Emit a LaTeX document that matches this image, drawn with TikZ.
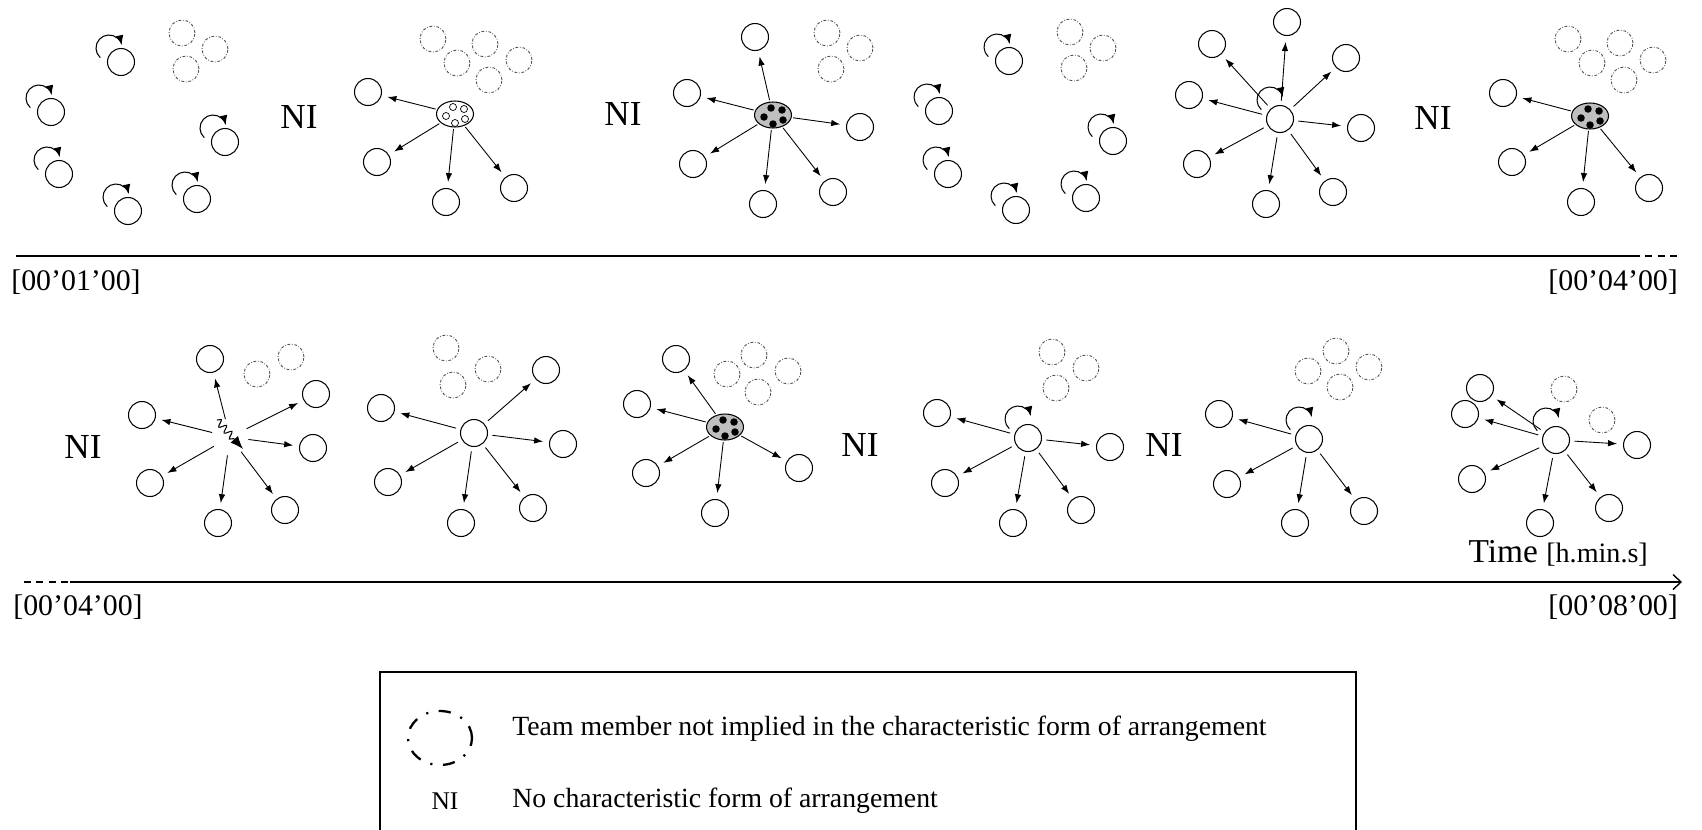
\documentclass[tikz,border=0pt]{standalone}
\usepackage{fontspec}
\setmainfont{Liberation Serif}
\usetikzlibrary{arrows.meta,shapes.geometric,decorations.pathmorphing}

\tikzset{
  member/.style={circle,draw,line width=0.6pt,minimum size=0.54cm,inner sep=0pt},
  absent/.style={circle,draw=black!70,line width=0.5pt,dash pattern=on 1.6pt off 1pt on 0.4pt off 1pt,minimum size=0.52cm,inner sep=0pt},
  clan/.style={ellipse,draw,line width=0.6pt,minimum width=0.74cm,minimum height=0.52cm,inner sep=0pt},
  core/.style={circle,fill=black,minimum size=0.15cm,inner sep=0pt},
  hollow/.style={circle,draw,fill=white,line width=0.4pt,minimum size=0.14cm,inner sep=0pt},
  spoke/.style={-{Latex[length=1.8mm,width=1.3mm]},line width=0.5pt,shorten <=0.03cm,shorten >=0.12cm},
  turn/.style={-{Latex[length=2mm,width=1.5mm]},line width=0.6pt},
  ni/.style={font=\fontsize{20}{24}\selectfont},
  stamp/.style={font=\fontsize{17}{20}\selectfont},
  keytext/.style={anchor=west,inner sep=0pt,font=\fontsize{15.8}{19}\selectfont},
}

\newcommand{\turnloop}[2][-12,-14]{\draw[turn] ([shift={(#1)}]#2.center) ++(228:0.26cm) arc[start angle=228,end angle=12,radius=0.26cm];}
\newcommand{\spokes}[3][]{\foreach \x/\y [count=\i] in {#3} {\node[member] (#2o\i) at (\x,\y) {}; \draw[spoke,#1] (#2) -- (#2o\i);}}
\newcommand{\absents}[2]{\foreach \x/\y [count=\i] in {#2} \node[absent] (#1a\i) at (\x,\y) {};}
\newcommand{\cores}[2]{\foreach \x/\y [count=\i] in {-2/-7,9/-5,-9/2,10/5,0/9} \node[#2] (#1d\i) at ([shift={(\x,\y)}]#1) {};}

\begin{document}
\begin{tikzpicture}[x=0.02cm,y=-0.02cm]
\useasboundingbox (0,0) rectangle (1702,829);

\foreach \x/\y [count=\i] in {121/62,51/112,59/174,128/211,197/199,225/142} {\node[member] (g1m\i) at (\x,\y) {}; \turnloop{g1m\i}}
\absents{g1}{182/33,215/49,186/69}
\node[ni] (ni1) at (299,117) {NI};

\node[clan] (g2) at (455,114) {};
\cores{g2}{hollow}
\spokes{g2}{368/92,377/162,446/202,514/188}
\absents{g2}{433/39,485/44,457/63,519/60,489/80}
\node[ni] (ni2) at (623,114) {NI};

\node[clan,fill=black!25] (g3) at (773,115) {};
\cores{g3}{core}
\spokes{g3}{755/37,687/93,860/127,693/164,763/204,833/192}
\absents{g3}{827/33,860/48,831/69}

\foreach \x/\y [count=\i] in {1009/61,939/111,948/174,1016/210,1086/198,1113/141} {\node[member] (g4m\i) at (\x,\y) {}; \turnloop{g4m\i}}
\absents{g4}{1070/32,1103/48,1074/68}

\node[member] (g5) at (1280,119) {};
\turnloop[-10,-19]{g5}
\spokes[shorten <=0.09cm]{g5}{1287/22,1212/44,1346/58,1189/95,1361/128,1197/164,1333/192,1266/204}
\node[ni] (ni3) at (1433,118) {NI};

\node[clan,fill=black!25] (g6) at (1590,116) {};
\cores{g6}{core}
\spokes{g6}{1503/93,1512/162,1581/202,1649/188}
\absents{g6}{1568/39,1620/43,1592/63,1653/60,1624/80}

\coordinate (t1a) at (16,256);
\coordinate (t1b) at (1633,256);
\coordinate (t1c) at (1682,256);
\draw[line width=0.8pt] (t1a) -- (t1b);
\draw[line width=0.8pt,dash pattern=on 4pt off 3pt] (t1b) -- (t1c);
\node[stamp] (s1) at (76,282) {[00’01’00]};
\node[stamp,anchor=east] (s2) at (1684,282) {[00’04’00]};

\coordinate (t2a) at (24,582);
\coordinate (t2b) at (70,582);
\coordinate (t2c) at (1682,582);
\draw[line width=0.8pt,dash pattern=on 4pt off 3pt] (t2a) -- (t2b);
\draw[line width=0.8pt,-{Straight Barb[length=1.6mm,width=3mm]}] (t2b) -- (t2c);
\node[stamp] (s3) at (78,607) {[00’04’00]};
\node[stamp,anchor=east] (s4) at (1684,607) {[00’08’00]};
\node[anchor=base east] (tm) at (1654,562) {\fontsize{19}{22}\selectfont Time \fontsize{16}{19}\selectfont[h.min.s]};

\node[ni] (ni4) at (83,447) {NI};
\coordinate (g7) at (230,437);
\spokes[shorten <=0.37cm]{g7}{210/359,142/415,316/394,313/448,150/483,285/510,218/523}
\coordinate (w7a) at (217,420);
\coordinate (w7b) at (243,449);
\draw[turn,-{Latex[length=2.6mm,width=2mm]},decorate,decoration={snake,amplitude=0.07cm,segment length=0.16cm,post length=0.22cm}] (w7a) -- (w7b);
\absents{g7}{257/374,291/357}

\node[member] (g8) at (474,433) {};
\spokes[shorten <=0.09cm]{g8}{381/408,546/370,563/444,388/482,533/508,461/523}
\absents{g8}{446/348,488/369,453/385}

\node[clan,fill=black!25] (g9) at (725,427) {};
\cores{g9}{core}
\spokes{g9}{676/359,637/404,646/473,715/513,799/468}
\absents{g9}{754/355,727/374,788/371,758/392}
\node[ni] (ni5) at (860,445) {NI};

\node[member] (g10) at (1028,438) {};
\turnloop[-10,-19]{g10}
\spokes[shorten <=0.09cm]{g10}{937/413,1110/447,945/483,1081/510,1013/523}
\absents{g10}{1052/352,1086/368,1056/388}
\node[ni] (ni6) at (1164,445) {NI};

\node[member] (g11) at (1309,439) {};
\turnloop[-10,-19]{g11}
\spokes[shorten <=0.09cm]{g11}{1219/414,1227/484,1295/523,1364/511}
\absents{g11}{1336/351,1308/371,1369/367,1340/387}

\node[member] (g12) at (1556,440) {};
\turnloop[-10,-19]{g12}
\spokes[shorten <=0.09cm]{g12}{1480/388,1465/414,1637/445,1472/479,1609/508,1540/523}
\absents{g12}{1564/389,1602/420}

\draw[line width=0.6pt] (380,672) rectangle (1356,850);
\node[ellipse,draw,line width=1.3pt,dash pattern=on 7pt off 6pt on 1.2pt off 6pt,minimum width=1.28cm,minimum height=1.08cm] (key1) at (440,738) {};
\node[keytext] (txt1) at (512,729) {Team member not implied in the characteristic form of arrangement};
\node[font=\fontsize{14.5}{17}\selectfont] (key2) at (445,801) {NI};
\node[keytext] (txt2) at (512,801) {No characteristic form of arrangement};
\end{tikzpicture}
\end{document}
